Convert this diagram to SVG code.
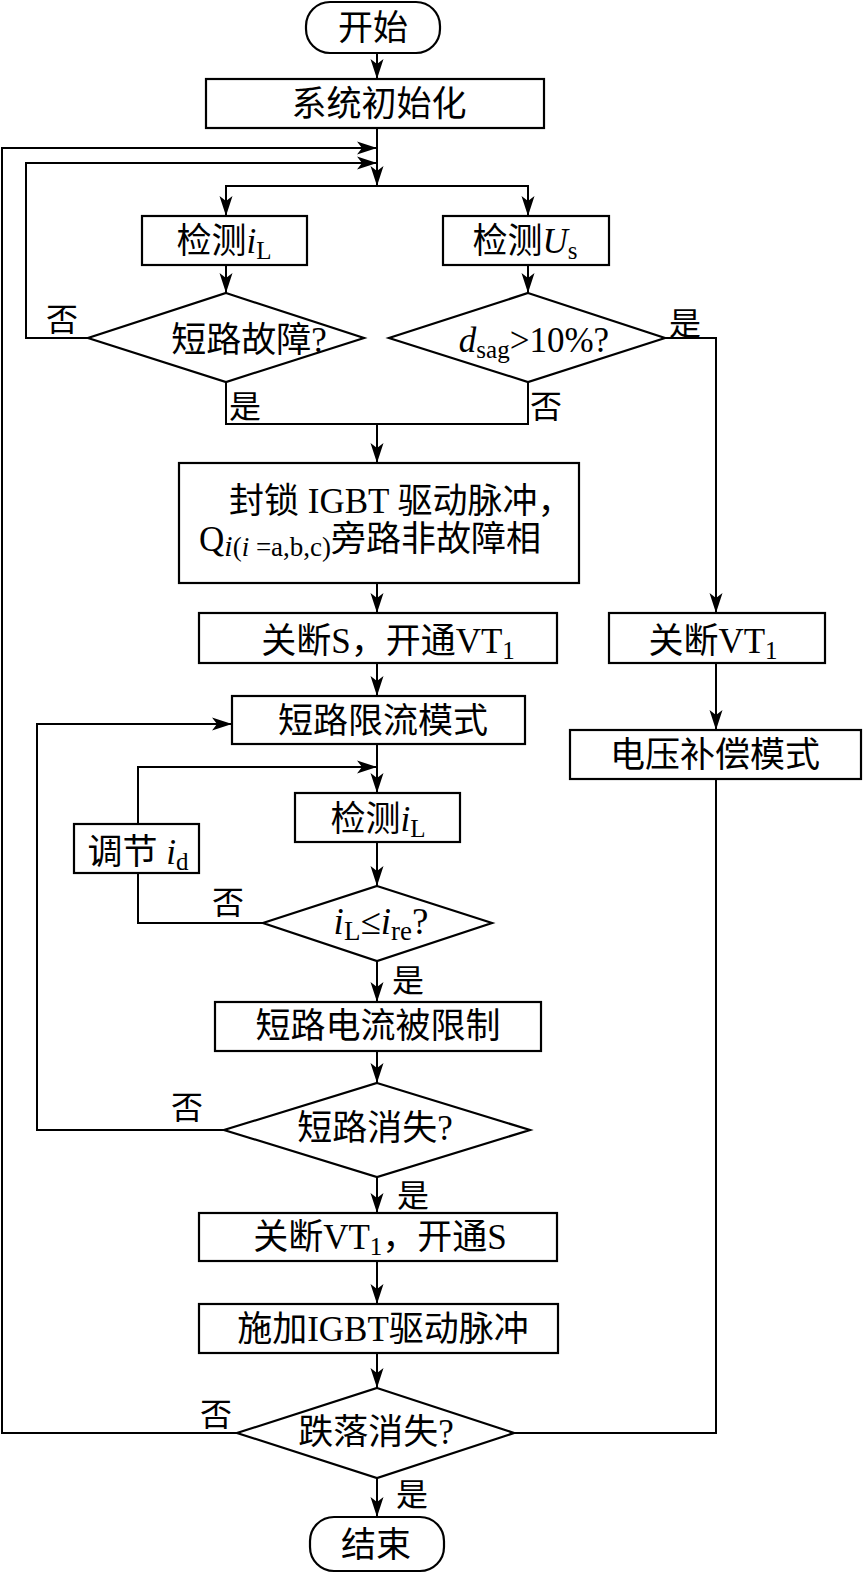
<svg xmlns="http://www.w3.org/2000/svg" width="864" height="1573" viewBox="0 0 864 1573">
<style>
.s{fill:#fff;stroke:#000;stroke-width:2.2}
.c{fill:none;stroke:#000;stroke-width:2}
.t{font-family:"Liberation Serif","Noto Sans CJK SC",serif;font-size:35px;fill:#000;text-anchor:middle}
.l{font-family:"Liberation Serif","Noto Sans CJK SC",serif;font-size:32px;fill:#000;text-anchor:middle}
.it{font-style:italic}
</style>
<defs>
<marker id="a" markerUnits="userSpaceOnUse" markerWidth="20" markerHeight="14" refX="20" refY="7" orient="auto">
<path d="M0,0.5 L20,7 L0,13.5 L5,7 z" fill="#000"/>
</marker>
</defs>
<rect width="864" height="1573" fill="#fff"/>
<g id="connectors">
<path class="c" d="M377,53 V79" marker-end="url(#a)"/>
<path class="c" d="M377,128 V186" marker-end="url(#a)"/>
<path class="c" d="M226,216 V186 H528 V216" />
<path class="c" d="M226,187 V216" marker-end="url(#a)"/>
<path class="c" d="M528,187 V216" marker-end="url(#a)"/>
<path class="c" d="M226,265 V293" marker-end="url(#a)"/>
<path class="c" d="M528,265 V293" marker-end="url(#a)"/>
<path class="c" d="M88,338 H26 V163 H377" marker-end="url(#a)"/>
<path class="c" d="M237,1433 H2 V148 H377" marker-end="url(#a)"/>
<path class="c" d="M665,338 H716 V613" marker-end="url(#a)"/>
<path class="c" d="M226,382 V424 H528 V382"/>
<path class="c" d="M377,424 V463" marker-end="url(#a)"/>
<path class="c" d="M377,583 V613" marker-end="url(#a)"/>
<path class="c" d="M377,663 V696" marker-end="url(#a)"/>
<path class="c" d="M716,663 V730" marker-end="url(#a)"/>
<path class="c" d="M377,744 V793" marker-end="url(#a)"/>
<path class="c" d="M138,824 V767 H377" marker-end="url(#a)"/>
<path class="c" d="M263,923 H138 V873"/>
<path class="c" d="M377,842 V886" marker-end="url(#a)"/>
<path class="c" d="M377,961 V1002" marker-end="url(#a)"/>
<path class="c" d="M377,1051 V1083" marker-end="url(#a)"/>
<path class="c" d="M224,1130 H37 V724 H232" marker-end="url(#a)"/>
<path class="c" d="M377,1177 V1213" marker-end="url(#a)"/>
<path class="c" d="M377,1261 V1304" marker-end="url(#a)"/>
<path class="c" d="M377,1353 V1388" marker-end="url(#a)"/>
<path class="c" d="M377,1478 V1517" marker-end="url(#a)"/>
<path class="c" d="M716,779 V1433 H514"/>
</g>
<g id="start"><rect class="s" x="306" y="2" width="134" height="51" rx="24"/><text class="t" x="373" y="40">开始</text></g>
<g id="init"><rect class="s" x="206" y="79" width="338" height="49"/><text class="t" x="379" y="116">系统初始化</text></g>
<g id="detect-il"><rect class="s" x="142" y="216" width="165" height="49"/><text class="t" x="224" y="253">检测<tspan class="it">i</tspan><tspan font-size="25" dy="6">L</tspan></text></g>
<g id="detect-us"><rect class="s" x="443" y="216" width="166" height="49"/><text class="t" x="525" y="253">检测<tspan class="it">U</tspan><tspan font-size="25" dy="6">s</tspan></text></g>
<g id="fault"><polygon class="s" points="226,293 364,338 226,382 88,338"/><text class="t" x="249" y="352">短路故障?</text></g>
<g id="sag"><polygon class="s" points="528,293 665,338 528,382 389,338"/><text class="t" x="534" y="352"><tspan class="it">d</tspan><tspan font-size="25" dy="6">sag</tspan><tspan dy="-6">&gt;10%?</tspan></text></g>
<g id="block"><rect class="s" x="179" y="463" width="400" height="120"/>
<text class="t" x="229" y="513" style="text-anchor:start">封锁 IGBT 驱动脉冲，</text>
<text class="t" x="199" y="551" style="text-anchor:start">Q<tspan class="it" font-size="30" dy="5">i</tspan><tspan font-size="27">(<tspan class="it">i</tspan> =a,b,c)</tspan><tspan dy="-5">旁路非故障相</tspan></text></g>
<g id="off-s"><rect class="s" x="199" y="613" width="358" height="50"/><text class="t" x="388" y="653">关断S，开通VT<tspan font-size="25" dy="6">1</tspan></text></g>
<g id="off-vt1"><rect class="s" x="609" y="613" width="216" height="50"/><text class="t" x="713" y="653">关断VT<tspan font-size="25" dy="6">1</tspan></text></g>
<g id="limit-mode"><rect class="s" x="232" y="696" width="293" height="48"/><text class="t" x="383" y="733">短路限流模式</text></g>
<g id="comp-mode"><rect class="s" x="570" y="730" width="291" height="49"/><text class="t" x="715" y="767">电压补偿模式</text></g>
<g id="detect-il2"><rect class="s" x="295" y="793" width="165" height="49"/><text class="t" x="378" y="831">检测<tspan class="it">i</tspan><tspan font-size="25" dy="6">L</tspan></text></g>
<g id="adjust"><rect class="s" x="74" y="824" width="125" height="49"/><text class="t" x="138" y="864">调节 <tspan class="it">i</tspan><tspan font-size="25" dy="6">d</tspan></text></g>
<g id="cmp"><polygon class="s" points="377,886 492,923 377,961 263,923"/><text class="t" x="381" y="934" style="font-size:37px"><tspan class="it">i</tspan><tspan font-size="27" dy="6">L</tspan><tspan dy="-6">≤</tspan><tspan class="it">i</tspan><tspan font-size="27" dy="6">re</tspan><tspan dy="-6">?</tspan></text></g>
<g id="limited"><rect class="s" x="215" y="1002" width="326" height="49"/><text class="t" x="378" y="1038">短路电流被限制</text></g>
<g id="sc-gone"><polygon class="s" points="377,1083 530,1130 377,1177 224,1130"/><text class="t" x="375" y="1140">短路消失?</text></g>
<g id="off-vt1-on-s"><rect class="s" x="199" y="1213" width="358" height="48"/><text class="t" x="380" y="1249">关断VT<tspan font-size="25" dy="6">1</tspan><tspan dy="-6">，开通S</tspan></text></g>
<g id="apply"><rect class="s" x="199" y="1304" width="359" height="49"/><text class="t" x="383" y="1341">施加IGBT驱动脉冲</text></g>
<g id="sag-gone"><polygon class="s" points="377,1388 514,1433 377,1478 237,1433"/><text class="t" x="376" y="1444">跌落消失?</text></g>
<g id="end"><rect class="s" x="310" y="1517" width="134" height="54" rx="24"/><text class="t" x="376" y="1557">结束</text></g>
<g id="labels">
<text class="l" x="62" y="331">否</text>
<text class="l" x="685" y="335">是</text>
<text class="l" x="245" y="418">是</text>
<text class="l" x="546" y="418">否</text>
<text class="l" x="228" y="914">否</text>
<text class="l" x="408" y="992">是</text>
<text class="l" x="187" y="1119">否</text>
<text class="l" x="413" y="1207">是</text>
<text class="l" x="216" y="1426">否</text>
<text class="l" x="412" y="1506">是</text>
</g>
</svg>
